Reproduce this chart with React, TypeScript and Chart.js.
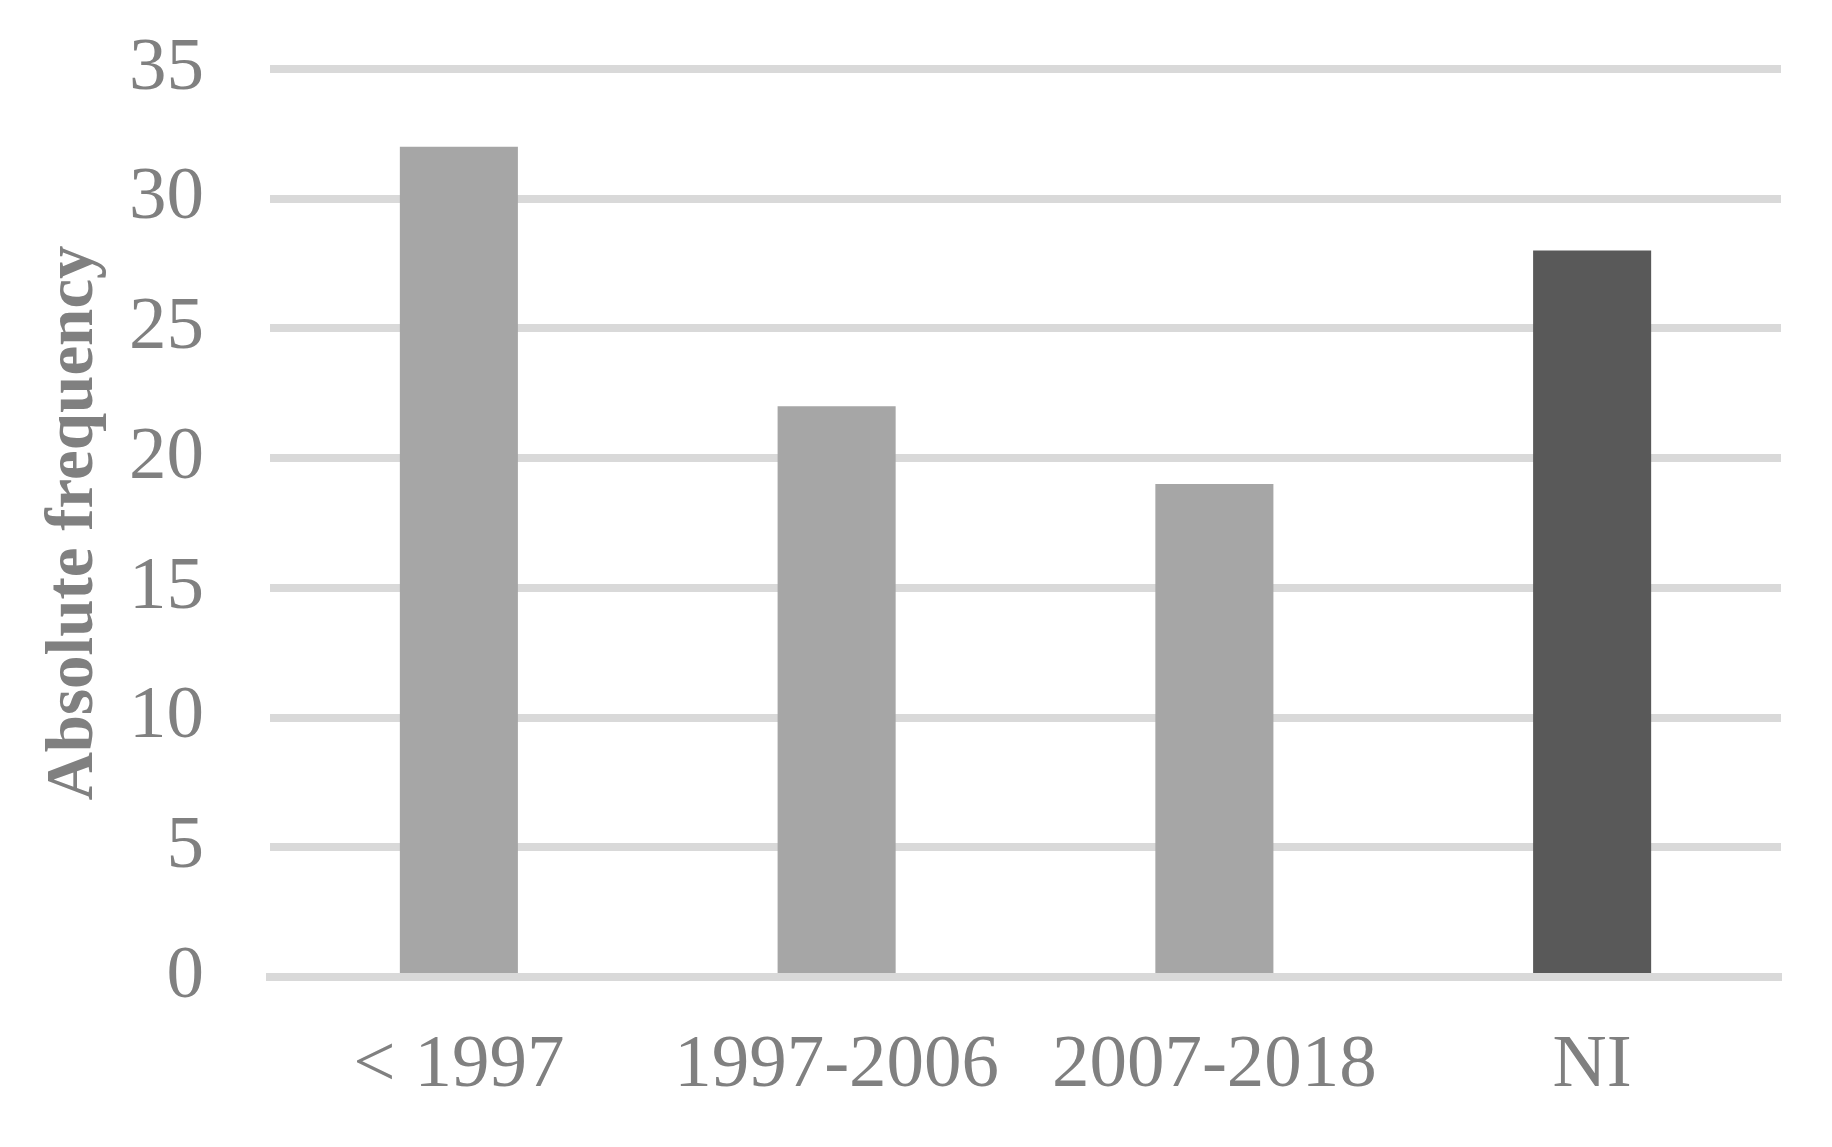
import React, { useEffect, useRef } from "react";
import { Chart, registerables } from "chart.js";

Chart.register(...registerables);

const categories = ["< 1997", "1997-2006", "2007-2018", "NI"];
const frequencies = [32, 22, 19, 28];
const barColors = ["#a6a6a6", "#a6a6a6", "#a6a6a6", "#595959"];
const yTitle = "Absolute frequency";

const FONT = "'Liberation Serif', 'Times New Roman', serif";
const TEXT = "#808080";
const GRID = "#d9d9d9";

export default function App() {
  const ref = useRef<HTMLCanvasElement | null>(null);

  useEffect(() => {
    if (!ref.current) return;
    const chart = new Chart(ref.current, {
      type: "bar",
      data: {
        labels: categories,
        datasets: [
          {
            data: frequencies,
            backgroundColor: barColors,
            borderWidth: 0,
            categoryPercentage: 1,
            barPercentage: 0.3125,
          },
        ],
      },
      options: {
        responsive: false,
        animation: false,
        devicePixelRatio: 1,
        layout: { padding: { top: 69, right: 51, left: 0, bottom: 0 } },
        plugins: { legend: { display: false }, tooltip: { enabled: false } },
        scales: {
          x: {
            z: 1,
            grid: { display: false, drawTicks: false },
            border: { display: true, color: GRID, width: 8 },
            ticks: {
              color: TEXT,
              font: { family: FONT, size: 75 },
              padding: 44,
              maxRotation: 0,
            },
            afterFit: (s: any) => {
              s.height = 170;
              s.paddingLeft = 0;
              s.paddingRight = 0;
            },
          },
          y: {
            min: 0,
            max: 35,
            grid: { color: GRID, lineWidth: 8, drawTicks: false },
            border: { display: false },
            ticks: {
              stepSize: 5,
              color: TEXT,
              font: { family: FONT, size: 75 },
              padding: 66,
            },
            title: {
              display: true,
              text: yTitle,
              color: TEXT,
              font: { family: FONT, size: 67, weight: "bold" },
              padding: { top: 34, bottom: 0 },
            },
            afterFit: (s: any) => {
              s.width = 270;
              s.paddingTop = 0;
              s.paddingBottom = 0;
            },
          },
        },
      },
    });
    return () => chart.destroy();
  }, []);

  return (
    <div style={{ position: "absolute", left: 0, top: 0, width: 1832, height: 1147, background: "#fff" }}>
      <canvas ref={ref} width={1832} height={1147} />
    </div>
  );
}
